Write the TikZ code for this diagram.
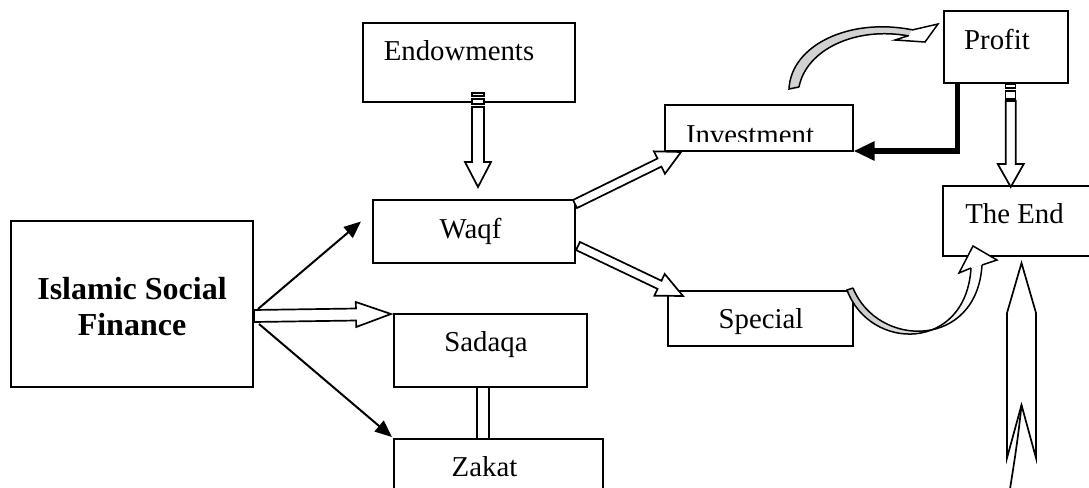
\documentclass[tikz,border=0pt]{standalone}
\usepackage{fontspec}
\setmainfont{Liberation Serif}
\usetikzlibrary{calc,arrows.meta}
\tikzset{
  box/.style={draw, line width=2pt, rectangle, inner sep=0pt, fill=white},
  lbl/.style={inner sep=0pt, anchor=base, font=\fontsize{28.8}{34}\selectfont},
  blbl/.style={inner sep=0pt, anchor=base, font=\fontsize{32}{36}\selectfont\bfseries},
  harrow/.style={draw, line width=1.7pt, fill=white, line join=miter},
  sarrow/.style={line width=2pt, -{Triangle[length=17pt,width=14pt]}},
  thin/.style={line width=1.7pt},
  stripe/.style={draw, line width=1.4pt, fill=white},
}
\newcommand\hollowarrow[5]{%
  \path ($(#2)!#5!(#1)$) coordinate (hc);
  \draw[harrow] ($(#1)!#3!90:(#2)$) -- ($(hc)!#3!90:(#2)$) -- ($(hc)!#4!90:(#2)$) -- (#2)
    -- ($(hc)!#4!-90:(#2)$) -- ($(hc)!#3!-90:(#2)$) -- ($(#1)!#3!-90:(#2)$) -- cycle;}
\begin{document}
\begin{tikzpicture}[x=1pt,y=-1pt]
\useasboundingbox (0,0) rectangle (1089,487);
\clip (0,0) rectangle (1089,487);
\fill[white] (0,0) rectangle (1089,487);

% boxes
\node[box, minimum width=242pt, minimum height=166pt] (isf) at (132,304) {};
\node[box, minimum width=212pt, minimum height=79pt] (endow) at (469,62.5) {};
\node[box, minimum width=202pt, minimum height=63pt] (waqf) at (474,231.5) {};
\node[box, minimum width=193pt, minimum height=73pt] (sadaqa) at (490.5,350.5) {};
\node[box, minimum width=209pt, minimum height=81pt] (zakat) at (498.5,479.5) {};
\node[box, minimum width=188pt, minimum height=46pt] (invest) at (758.5,128) {};
\node[box, minimum width=124.5pt, minimum height=71.5pt] (profit) at (1005.75,46.75) {};
\node[box, minimum width=177pt, minimum height=70pt] (theend) at (1031.5,221) {};
\node[box, minimum width=184.5pt, minimum height=55.5pt] (special) at (760.25,318.25) {};

% texts
\node[blbl] (isft1) at (132,299) {Islamic Social};
\node[blbl] (isft2) at (132,335) {Finance};
\node[lbl] (endowt) at (459,61) {Endowments};
\node[lbl] (waqft) at (470.5,238) {Waqf};
\node[lbl] (sadaqat) at (486,351) {Sadaqa};
\node[lbl] (zakatt) at (484.5,476) {Zakat};
\begin{scope}
  \clip (664.5,105) rectangle (852.5,141);
  \node[lbl] (investt) at (750,144.5) {Investment};
\end{scope}
\node[lbl] (profitt) at (997,50) {Profit};
\node[lbl] (theendt) at (1014.5,223) {The End};
\node[lbl] (specialt) at (761,328) {Special};

% ISF -> Waqf, ISF -> Zakat
\draw[sarrow] ($(isf.east)+(4,5)$) -- ($(waqf.west)+(-11,-10)$);
\draw[sarrow] ($(isf.east)+(5,20)$) -- ($(zakat.north west)+(-1,-1)$);
% ISF -> Sadaqa (hollow)
\coordinate (a1) at ($(isf.east)+(0,12)$);
\coordinate (b1) at ($(sadaqa.north west)+(-2,1)$);
\hollowarrow{a1}{b1}{6pt}{12.5pt}{35pt}
% Sadaqa -- Zakat
\draw[thin] ([xshift=-13.5pt]sadaqa.south) -- ([xshift=-13.5pt]sadaqa.south |- zakat.north);
\draw[thin] ([xshift=-1.5pt]sadaqa.south) -- ([xshift=-1.5pt]sadaqa.south |- zakat.north);

% Endowments -> Waqf
\draw[stripe] ($(endow.south)+(3,-10)$) rectangle ($(endow.south)+(15,-7)$);
\draw[stripe] ($(endow.south)+(3,-4)$) rectangle ($(endow.south)+(15,1)$);
\coordinate (a2) at ($(endow.south)+(9,4)$);
\coordinate (b2) at ($(waqf.north)+(4,-12)$);
\hollowarrow{a2}{b2}{6pt}{13pt}{25pt}

% Waqf -> Investment, Waqf -> Special
\coordinate (a3) at ($(waqf.north east)+(-1,5)$);
\coordinate (b3) at ($(invest.south west)+(17.5,0)$);
\hollowarrow{a3}{b3}{4.5pt}{12.5pt}{24pt}
\coordinate (a4) at ($(waqf.east)+(2,14.5)$);
\coordinate (b4) at ($(special.north west)+(16,6.5)$);
\hollowarrow{a4}{b4}{4.5pt}{12pt}{26pt}

% Profit -> The End
\draw[stripe] ($(profit.south)+(0,0.5)$) rectangle ($(profit.south)+(10,4.5)$);
\draw[stripe] ($(profit.south)+(0,7.5)$) rectangle ($(profit.south)+(10,15.5)$);
\coordinate (a5) at ($(profit.south)+(5,17.5)$);
\coordinate (b5) at ($(theend.north)+(-20.75,2)$);
\hollowarrow{a5}{b5}{5pt}{13pt}{23pt}

% Profit -> Investment (thick elbow)
\draw[line width=5.5pt, line join=miter, -{Triangle[length=21pt,width=18pt]}]
  ($(profit.south west)+(15,0)$) |- ($(invest.south east)+(0,-1)$);

% Investment -> Profit (curved)
\coordinate (c1s) at (789,89);
\coordinate (c1t) at (938,24);
\fill[gray!35] (c1s) .. controls (791,45) and (850,17) .. (913,30) -- (909,36)
  .. controls (855,26) and (806,50) .. (799,87) -- cycle;
\draw[line width=1.5pt] (799,87) -- (c1s) .. controls (791,45) and (850,17) .. (913,30);
\draw[line width=1.5pt] (909,36) .. controls (855,26) and (806,50) .. (799,87);
\filldraw[line width=1.5pt, fill=white, line join=miter]
  (912,30) -- (c1t) -- (925,42) -- (895,40) -- (909,35.5);

% Special -> The End (curved)
\coordinate (c2s) at ($(special.north east)+(-6.5,0.5)$);
\coordinate (c2t) at (973,246);
\fill[left color=gray!45, right color=white] (c2s) .. controls (870,352) and (966,352) .. (971,268)
  -- (982,265) .. controls (977,349) and (878,349) .. (853,288) -- cycle;
\draw[line width=1.5pt] (853,288) -- (c2s) .. controls (870,352) and (966,352) .. (971,268);
\draw[line width=1.5pt] (982,265) .. controls (977,349) and (878,349) .. (853,288);
\filldraw[line width=1.5pt, fill=white, line join=miter]
  (971,268) -- (959,273) -- (c2t) -- (997,260) -- (982,265);

% bottom-right arrow up to The End
\coordinate (c3t) at ($(theend.south)+(-10,6)$);
\coordinate (c3n) at (1021.5,405);
\draw[harrow] (c3t) -- (1036,313) -- (1036,458) -- (c3n) -- (1007,458) -- (1007,313) -- cycle;
\draw[thin] (c3n) .. controls (1018,440) and (1013,470) .. (1009,495);
\end{tikzpicture}
\end{document}
